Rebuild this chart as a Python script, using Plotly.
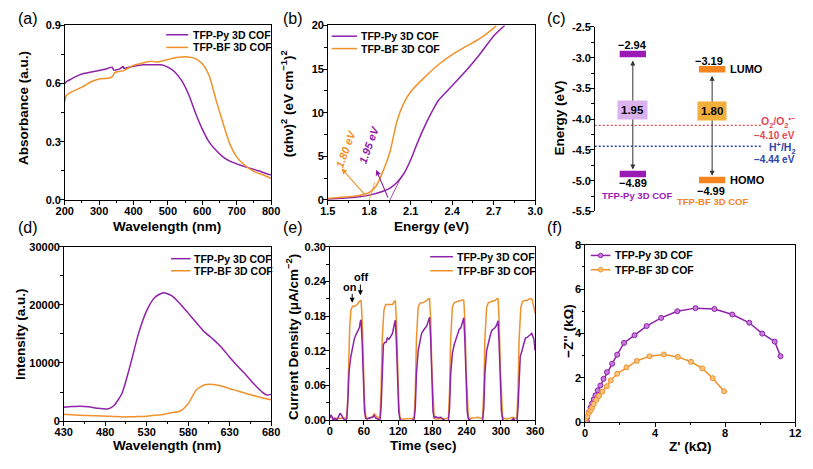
import plotly.graph_objects as go

W, H = 813, 469
FONT = "Liberation Sans, Arial, sans-serif"
PURPLE = "#8e22a8"
ORANGE = "#ef922c"
PURPLE_BAR = "#9a1cb5"
ORANGE_BAR = "#f5841f"
RED = "#e04a55"
BLUE = "#2e46a6"

series_names = ["TFP-Py 3D COF", "TFP-BF 3D COF"]

# ---------------- (a) UV-Vis absorbance ----------------
a_wl_py = [200, 205, 215, 230, 250, 270, 300, 320, 338, 342, 360, 370, 372, 400, 430, 460, 480,
           500, 520, 540, 560, 580, 600, 620, 640, 660, 680, 700, 730, 760, 800]
a_abs_py = [0.600, 0.610, 0.620, 0.635, 0.650, 0.657, 0.668, 0.676, 0.685, 0.670, 0.676, 0.688, 0.679,
            0.690, 0.697, 0.698, 0.697, 0.685, 0.660, 0.615, 0.545, 0.450, 0.365, 0.298, 0.256,
            0.222, 0.200, 0.186, 0.168, 0.152, 0.128]
a_wl_bf = [200, 205, 220, 250, 280, 300, 330, 340, 345, 370, 400, 420, 450, 470, 500, 530, 560,
           580, 600, 620, 640, 660, 680, 700, 720, 750, 780, 800]
a_abs_bf = [0.507, 0.540, 0.557, 0.582, 0.612, 0.624, 0.629, 0.639, 0.657, 0.666, 0.694, 0.703, 0.716,
            0.711, 0.724, 0.736, 0.738, 0.729, 0.703, 0.641, 0.515, 0.398, 0.289, 0.222, 0.184,
            0.147, 0.127, 0.110]

# ---------------- (b) Tauc plot ----------------
b_e_py = [1.50, 1.60, 1.70, 1.80, 1.90, 1.95, 2.00, 2.05, 2.10, 2.15, 2.20, 2.25, 2.30, 2.40,
          2.50, 2.60, 2.70, 2.78]
b_py = [0.10, 0.20, 0.30, 0.55, 1.00, 1.35, 2.00, 3.00, 4.60, 6.60, 8.40, 10.0, 11.4, 13.1,
        14.8, 16.7, 18.8, 20.0]
b_e_bf = [1.50, 1.60, 1.70, 1.75, 1.80, 1.85, 1.90, 1.95, 2.00, 2.05, 2.10, 2.20, 2.30, 2.40,
          2.50, 2.60, 2.70, 2.72]
b_bf = [0.15, 0.30, 0.45, 0.60, 0.85, 1.60, 3.30, 5.50, 9.00, 11.1, 12.4, 14.05, 15.5, 16.65,
        17.6, 18.5, 19.7, 20.0]
b_gap = [1.95, 1.80]
b_tan_py_x = [1.95, 2.03]
b_tan_py_y = [0.0, 2.6]
b_tan_bf_x = [1.80, 1.84]
b_tan_bf_y = [0.0, 2.0]

# ---------------- (c) band diagram ----------------
c_lumo = [-2.94, -3.19]
c_homo = [-4.89, -4.99]
c_gap = [1.95, 1.80]
c_o2 = -4.10
c_h2 = -4.44
c_tickvals = [-5.5, -5.0, -4.5, -4.0, -3.5, -3.0, -2.5]
c_ticktext = ["-5.5", "-5.0", "-4.5", "-4.0", "-3.5", "-3.0", "-2.5"]

# ---------------- (d) PL ----------------
d_wl = [430, 440, 450, 460, 470, 483, 490, 500, 510, 520, 530, 540, 550, 560, 570, 580, 590,
        600, 610, 620, 630, 640, 650, 660, 670, 675, 680]
d_py = [2400, 2500, 2560, 2450, 2230, 2100, 2600, 4700, 9500, 15000, 19000, 21300, 22080, 21600,
        20240, 18570, 16900, 15300, 14100, 12700, 11000, 9400, 7900, 6300, 4900, 4500, 4600]
d_bf = [1170, 1100, 1000, 950, 900, 840, 800, 725, 740, 780, 850, 1000, 1150, 1450, 1700, 3000,
        5400, 6250, 6300, 6050, 5580, 5190, 4740, 4350, 3960, 3800, 3680]

# ---------------- (e) photocurrent ----------------
e_t_bf = [0, 3, 6, 10, 15, 20, 25, 29,
          31, 33, 35, 37, 40, 44, 48, 52, 55, 57, 59, 61, 63, 65,
          70, 75, 78, 80, 84, 88,
          90, 92, 95, 98, 102, 106, 110, 113, 115, 117, 119, 121, 123,
          125, 130, 135, 140, 145, 148,
          150, 152, 155, 158, 162, 166, 170, 173, 175, 177, 179, 181, 183,
          185, 190, 195, 200, 205, 208,
          210, 212, 215, 218, 222, 226, 230, 233, 235, 237, 239, 241, 243,
          245, 250, 255, 260, 265, 268,
          270, 272, 275, 278, 282, 286, 290, 293, 295, 297, 299, 301, 303,
          305, 310, 315, 320, 325, 328,
          330, 332, 335, 338, 342, 346, 350, 353, 355, 357, 360]
e_j_bf = [0.005, 0.004, 0.003, 0.003, 0.003, 0.003, 0.003, 0.004,
          0.020, 0.100, 0.160, 0.190, 0.197, 0.197, 0.200, 0.205, 0.207, 0.170, 0.090, 0.030, 0.008, 0.003,
          0.003, 0.006, 0.011, 0.008, 0.004, 0.005,
          0.050, 0.140, 0.190, 0.200, 0.200, 0.201, 0.200, 0.205, 0.207, 0.170, 0.090, 0.030, 0.005,
          0.002, 0.002, 0.002, 0.002, 0.003, 0.005,
          0.050, 0.140, 0.195, 0.202, 0.203, 0.204, 0.207, 0.210, 0.210, 0.175, 0.090, 0.030, 0.006,
          0.002, 0.002, 0.003, 0.002, 0.003, 0.004,
          0.050, 0.140, 0.195, 0.203, 0.205, 0.206, 0.207, 0.208, 0.207, 0.170, 0.090, 0.030, 0.006,
          0.003, 0.003, 0.004, 0.005, 0.003, 0.004,
          0.050, 0.140, 0.195, 0.203, 0.205, 0.206, 0.207, 0.210, 0.210, 0.175, 0.090, 0.030, 0.006,
          0.003, 0.002, 0.003, 0.005, 0.003, 0.004,
          0.050, 0.140, 0.195, 0.205, 0.207, 0.207, 0.210, 0.210, 0.208, 0.200, 0.185]
e_t_py = [0, 2, 4, 6, 9, 12, 15, 18, 21, 24, 28, 30,
          32, 34, 37, 40, 43, 46, 49, 52, 54, 55, 57, 59, 61, 63,
          66, 70, 75, 78, 80, 84, 88,
          90, 92, 94, 96, 99, 101, 104, 107, 110, 113, 115, 117, 119, 121, 123,
          126, 130, 135, 140, 145, 148,
          150, 152, 155, 158, 161, 164, 167, 170, 173, 175, 177, 179, 181, 183,
          186, 190, 195, 198, 202, 206, 208,
          210, 212, 215, 218, 221, 224, 227, 230, 233, 235, 237, 239, 241, 243,
          246, 250, 255, 258, 262, 266, 268,
          270, 272, 275, 278, 281, 284, 287, 290, 293, 295, 297, 299, 301, 303,
          306, 310, 314, 318, 322, 325, 328,
          330, 332, 334, 337, 340, 343, 346, 349, 352, 354, 356, 358, 360]
e_j_py = [0.004, 0.009, 0.006, 0.000, 0.003, 0.000, 0.005, 0.012, 0.008, 0.002, 0.000, 0.003,
          0.040, 0.085, 0.110, 0.125, 0.140, 0.148, 0.155, 0.160, 0.172, 0.173, 0.130, 0.060, 0.015, 0.003,
          0.002, 0.004, 0.005, 0.008, 0.004, 0.002, 0.000,
          0.020, 0.090, 0.130, 0.134, 0.135, 0.142, 0.140, 0.145, 0.150, 0.165, 0.173, 0.130, 0.060, 0.015, 0.002,
          -0.003, -0.002, -0.003, -0.001, 0.000, 0.002,
          0.020, 0.080, 0.120, 0.135, 0.150, 0.155, 0.160, 0.163, 0.172, 0.178, 0.140, 0.060, 0.015, 0.004,
          0.006, 0.004, 0.005, 0.002, -0.002, -0.004, 0.000,
          0.020, 0.080, 0.115, 0.130, 0.140, 0.150, 0.157, 0.160, 0.170, 0.177, 0.135, 0.060, 0.015, 0.002,
          0.000, -0.002, -0.004, -0.006, -0.004, -0.001, 0.000,
          0.020, 0.080, 0.120, 0.135, 0.145, 0.155, 0.158, 0.160, 0.165, 0.172, 0.130, 0.060, 0.015, 0.002,
          -0.003, -0.005, -0.004, -0.001, 0.003, -0.002, -0.004,
          0.020, 0.070, 0.110, 0.120, 0.130, 0.142, 0.143, 0.145, 0.148, 0.150, 0.145, 0.140, 0.120]

# ---------------- (f) Nyquist ----------------
f_zr_py = [0.12, 0.13, 0.22, 0.32, 0.41, 0.50, 0.60, 0.73, 0.88, 1.06, 1.25, 1.55, 1.84, 2.23,
           2.83, 3.52, 4.35, 5.27, 6.31, 7.39, 8.41, 9.38, 10.12, 10.83, 11.16]
f_zi_py = [0.03, 0.22, 0.44, 0.66, 0.85, 1.03, 1.21, 1.43, 1.65, 1.95, 2.25, 2.63, 3.04, 3.57,
           3.92, 4.33, 4.70, 5.00, 5.14, 5.10, 4.85, 4.48, 3.99, 3.63, 2.97]
f_zr_bf = [0.02, 0.04, 0.13, 0.22, 0.32, 0.41, 0.50, 0.65, 0.80, 0.99, 1.25, 1.47, 1.84, 2.37,
           2.96, 3.68, 4.50, 5.30, 6.05, 6.70, 7.29, 7.94]
f_zi_bf = [0.05, 0.15, 0.26, 0.41, 0.52, 0.66, 0.81, 1.00, 1.18, 1.37, 1.62, 1.88, 2.18, 2.47,
           2.76, 2.97, 3.05, 2.94, 2.72, 2.42, 1.98, 1.39]


def px(x):
    return x / W


def py(y):
    return 1 - y / H


fig = go.Figure()


def add_line(x, y, color, xa, ya, width=1.5, dash=None, smooth=False):
    line = dict(color=color, width=width)
    if dash:
        line["dash"] = dash
    if smooth:
        line["shape"] = "spline"
        line["smoothing"] = 0.6
    fig.add_trace(go.Scatter(x=x, y=y, mode="lines", line=line,
                             xaxis=xa, yaxis=ya, hoverinfo="skip", showlegend=False))


# (a)
add_line(a_wl_py, a_abs_py, PURPLE, "x", "y", smooth=True)
add_line(a_wl_bf, a_abs_bf, ORANGE, "x", "y", smooth=True)
# (b)
add_line(b_e_py, b_py, PURPLE, "x2", "y2", smooth=True)
add_line(b_e_bf, b_bf, ORANGE, "x2", "y2", smooth=True)
add_line(b_tan_py_x, b_tan_py_y, PURPLE, "x2", "y2", width=0.8)
add_line(b_tan_bf_x, b_tan_bf_y, ORANGE, "x2", "y2", width=0.8)
# (c)
c_x = [0.182, 0.561]
c_hw = 0.063
c_cols = [PURPLE_BAR, ORANGE_BAR]
add_line([0, 0.8], [c_o2, c_o2], RED, "x3", "y3", width=1.3, dash="2px,2px")
add_line([0, 0.8], [c_h2, c_h2], BLUE, "x3", "y3", width=1.3, dash="2px,2px")
for i in range(2):
    for lvl in (c_lumo[i], c_homo[i]):
        add_line([c_x[i] - c_hw, c_x[i] + c_hw], [lvl, lvl], c_cols[i], "x3", "y3", width=6.5)
# (d)
add_line(d_wl, d_py, PURPLE, "x4", "y4", smooth=True)
add_line(d_wl, d_bf, ORANGE, "x4", "y4", smooth=True)
# (e)
add_line(e_t_bf, e_j_bf, ORANGE, "x5", "y5")
add_line(e_t_py, e_j_py, PURPLE, "x5", "y5")
# (f)
fig.add_trace(go.Scatter(x=f_zr_py, y=f_zi_py, mode="lines+markers", xaxis="x6", yaxis="y6",
                         line=dict(color=PURPLE, width=1.5),
                         marker=dict(size=5, color="#c77ddb", line=dict(color=PURPLE, width=1)),
                         showlegend=False, hoverinfo="skip"))
fig.add_trace(go.Scatter(x=f_zr_bf, y=f_zi_bf, mode="lines+markers", xaxis="x6", yaxis="y6",
                         line=dict(color=ORANGE, width=1.5),
                         marker=dict(size=5, color="#f8c27f", line=dict(color=ORANGE, width=1)),
                         showlegend=False, hoverinfo="skip"))


def axis_cfg(dom, rng, dtick, mdtick, anchor, vertical=False, tickformat=None, mirror=True, **extra):
    if vertical:
        domain = [py(dom[1]), py(dom[0])]
    else:
        domain = [px(dom[0]), px(dom[1])]
    cfg = dict(domain=domain, range=rng, anchor=anchor, showline=True, linecolor="black",
               linewidth=1.2, mirror=mirror, ticks="outside", ticklen=3.5, tickwidth=1.2,
               tickcolor="black", tick0=rng[0], dtick=dtick, showgrid=False, zeroline=False,
               ticklabelstandoff=-3, tickprefix="<b>", ticksuffix="</b>",
               tickfont=dict(family=FONT, size=11, color="black", weight=700),
               minor=dict(ticks="outside", ticklen=2.2, tickwidth=1, tickcolor="black",
                          dtick=mdtick, tick0=rng[0], showgrid=False),
               fixedrange=True)
    if tickformat:
        cfg["tickformat"] = tickformat
    cfg.update(extra)
    return cfg


layout_axes = dict(
    xaxis=axis_cfg([57, 268], [200, 800], 100, 50, "y"),
    yaxis=axis_cfg([20, 199], [0, 0.9], 0.3, 0.15, "x", vertical=True, tickformat=".1f"),
    xaxis2=axis_cfg([326, 538], [1.5, 3.0], 0.3, 0.15, "y2", tickformat=".1f"),
    yaxis2=axis_cfg([20, 199], [0, 20], 5, 2.5, "x2", vertical=True),
    xaxis3=dict(domain=[px(599), px(813)], range=[0, 1], anchor="y3", visible=False, fixedrange=True),
    yaxis3=axis_cfg([21.5, 210.8], [-5.5, -2.5], 0.5, 0.25, "x3", vertical=True, mirror=False,
                    tickmode="array", tickvals=c_tickvals,
                    ticktext=["<b>" + t + "</b>" for t in c_ticktext]),
    xaxis4=axis_cfg([56, 268], [430, 680], 50, 25, "y4"),
    yaxis4=axis_cfg([247, 426], [0, 30000], 10000, 5000, "x4", vertical=True, tickformat="d"),
    xaxis5=axis_cfg([328, 538], [0, 360], 60, 30, "y5"),
    yaxis5=axis_cfg([247, 425], [0, 0.30], 0.06, 0.03, "x5", vertical=True, tickformat=".2f"),
    xaxis6=axis_cfg([589, 804], [0, 12], 4, 2, "y6"),
    yaxis6=axis_cfg([245, 427], [0, 8], 2, 1, "x6", vertical=True),
)
layout_axes["yaxis3"]["tickprefix"] = ""
layout_axes["yaxis3"]["ticksuffix"] = ""

ann = []
shapes = []


def ptext(x, y, text, size=13.5, bold=True, angle=0, color="black", xanchor="center"):
    f = dict(family=FONT, size=size, color=color, weight="bold" if bold else "normal")
    ann.append(dict(x=px(x), y=py(y), xref="paper", yref="paper", text=text, showarrow=False,
                    font=f, textangle=angle, xanchor=xanchor, yanchor="middle"))


def dtext(x, y, text, xa, ya, size=11, color="black", xanchor="center", bold=True, angle=0,
          italic=False, bg=None, pad=1):
    f = dict(family=FONT, size=size, color=color, weight="bold" if bold else "normal")
    if italic:
        f["style"] = "italic"
    d = dict(x=x, y=y, xref=xa, yref=ya, text=text, showarrow=False, font=f, textangle=angle,
             xanchor=xanchor, yanchor="middle", borderpad=pad)
    if bg:
        d["bgcolor"] = bg
    ann.append(d)


def arrow(x, y, ax, ay, xa, ya, color="black", side="end", width=1.1):
    ann.append(dict(x=x, y=y, ax=ax, ay=ay, xref=xa, yref=ya, axref=xa, ayref=ya, text="",
                    showarrow=True, arrowhead=2, arrowsize=1, arrowwidth=width, arrowcolor=color,
                    arrowside=side, startarrowhead=2, startarrowsize=1))


# panel labels
for lab, x, y in [("(a)", 7, 12.5), ("(b)", 278, 12.5), ("(c)", 548, 12.5),
                  ("(d)", 7, 227), ("(e)", 278, 227), ("(f)", 548, 227)]:
    ptext(x, y, lab, size=16, bold=False, xanchor="left")

# axis titles
ptext(15, 105, "Absorbance (a.u.)", angle=-90)
ptext(162, 226, "Wavelength (nm)")
ptext(285, 100, "(αhν)<sup>2</sup> (eV cm<sup>−1</sup>)<sup>2</sup>", angle=-90)
ptext(432, 226, "Energy (eV)")
ptext(563, 115, "Energy (eV)", angle=-90)
ptext(12, 337, "Intensity (a.u.)", angle=-90)
ptext(162, 451, "Wavelength (nm)")
ptext(290, 340, "Current Density (μA/cm<sup>−2</sup>)", angle=-90)
ptext(424, 451, "Time (sec)")
ptext(572, 333, "−Z'' (kΩ)", angle=-90)
ptext(697, 452, "Z' (kΩ)")

# legends (manual)
legend_spec = [
    (160.7, 183.3, 185.7, [29.5, 42.5], False),
    (330, 356, 358.3, [31, 43.7], False),
    (165.7, 185.7, 187.3, [259.3, 271.7], False),
    (430.7, 454, 456, [257.3, 271.7], False),
    (595, 615, 617.3, [256, 270.7], True),
]
leg_cols = [PURPLE, ORANGE]
leg_fill = ["#c77ddb", "#f8c27f"]
for x0, x1, xt, ys, mk in legend_spec:
    for i in range(2):
        shapes.append(dict(type="line", xref="paper", yref="paper", x0=px(x0), x1=px(x1),
                           y0=py(ys[i]), y1=py(ys[i]), line=dict(color=leg_cols[i], width=1.5)))
        if mk:
            cx = (x0 + x1) / 2
            shapes.append(dict(type="circle", xref="paper", yref="paper", x0=px(cx - 2.3),
                               x1=px(cx + 2.3), y0=py(ys[i] + 2.3), y1=py(ys[i] - 2.3),
                               fillcolor=leg_fill[i], line=dict(color=leg_cols[i], width=1)))
        ptext(xt, ys[i], series_names[i], size=10.5, xanchor="left")

# (b) annotations
arrow(1.60, 3.6, 1.79, 0.2, "x2", "y2", color=ORANGE)
arrow(1.85, 3.45, 1.94, 0.1, "x2", "y2", color=PURPLE)
dtext(1.634, 5.9, f"{b_gap[1]:.2f} eV", "x2", "y2", size=11, color=ORANGE, angle=-70, italic=True)
dtext(1.80, 6.4, f"{b_gap[0]:.2f} eV", "x2", "y2", size=11, color=PURPLE, angle=-70, italic=True)

# (c) annotations
for i in range(2):
    arrow(c_x[i], c_homo[i] + 0.07, c_x[i], c_lumo[i] - 0.08, "x3", "y3", color="#333333",
          side="end+start", width=1)
dtext(c_x[0], -3.85, f"{c_gap[0]:.2f}", "x3", "y3", size=11.5, bg="#dcb2ee", pad=3)
dtext(c_x[1], -3.87, f"{c_gap[1]:.2f}", "x3", "y3", size=11.5, bg="#f1b03c", pad=3)
dtext(c_x[0], -2.79, f"−{abs(c_lumo[0]):.2f}", "x3", "y3", size=11)
dtext(c_x[0], -5.04, f"−{abs(c_homo[0]):.2f}", "x3", "y3", size=11)
dtext(0.20, -5.24, series_names[0], "x3", "y3", size=9.5, color=PURPLE_BAR)
dtext(0.545, -3.05, f"−{abs(c_lumo[1]):.2f}", "x3", "y3", size=11)
dtext(0.554, -5.17, f"−{abs(c_homo[1]):.2f}", "x3", "y3", size=11)
dtext(0.565, -5.34, series_names[1], "x3", "y3", size=9.5, color=ORANGE_BAR)
dtext(0.636, c_lumo[1], "LUMO", "x3", "y3", size=11, xanchor="left")
dtext(0.636, c_homo[1], "HOMO", "x3", "y3", size=11, xanchor="left")
dtext(0.967, -4.04, "O<sub>2</sub>/O<sub>2</sub><sup>•−</sup>", "x3", "y3", size=10.5, color=RED, xanchor="right")
dtext(0.967, -4.26, f"−{abs(c_o2):.2f} eV", "x3", "y3", size=10, color=RED, xanchor="right")
dtext(0.967, -4.47, "H<sup>+</sup>/H<sub>2</sub>", "x3", "y3", size=10.5, color=BLUE, xanchor="right")
dtext(0.967, -4.66, f"−{abs(c_h2):.2f} eV", "x3", "y3", size=10, color=BLUE, xanchor="right")

# (e) on/off
dtext(34.8, 0.230, "on", "x5", "y5", size=11)
dtext(54.9, 0.247, "off", "x5", "y5", size=11)
arrow(39.4, 0.203, 39.4, 0.221, "x5", "y5", width=1)
arrow(53.7, 0.216, 53.7, 0.237, "x5", "y5", width=1)

fig.update_layout(width=W, height=H, margin=dict(l=0, r=0, t=0, b=0),
                  paper_bgcolor="white", plot_bgcolor="white", showlegend=False,
                  annotations=ann, shapes=shapes, **layout_axes)

fig.write_html("out.html")
